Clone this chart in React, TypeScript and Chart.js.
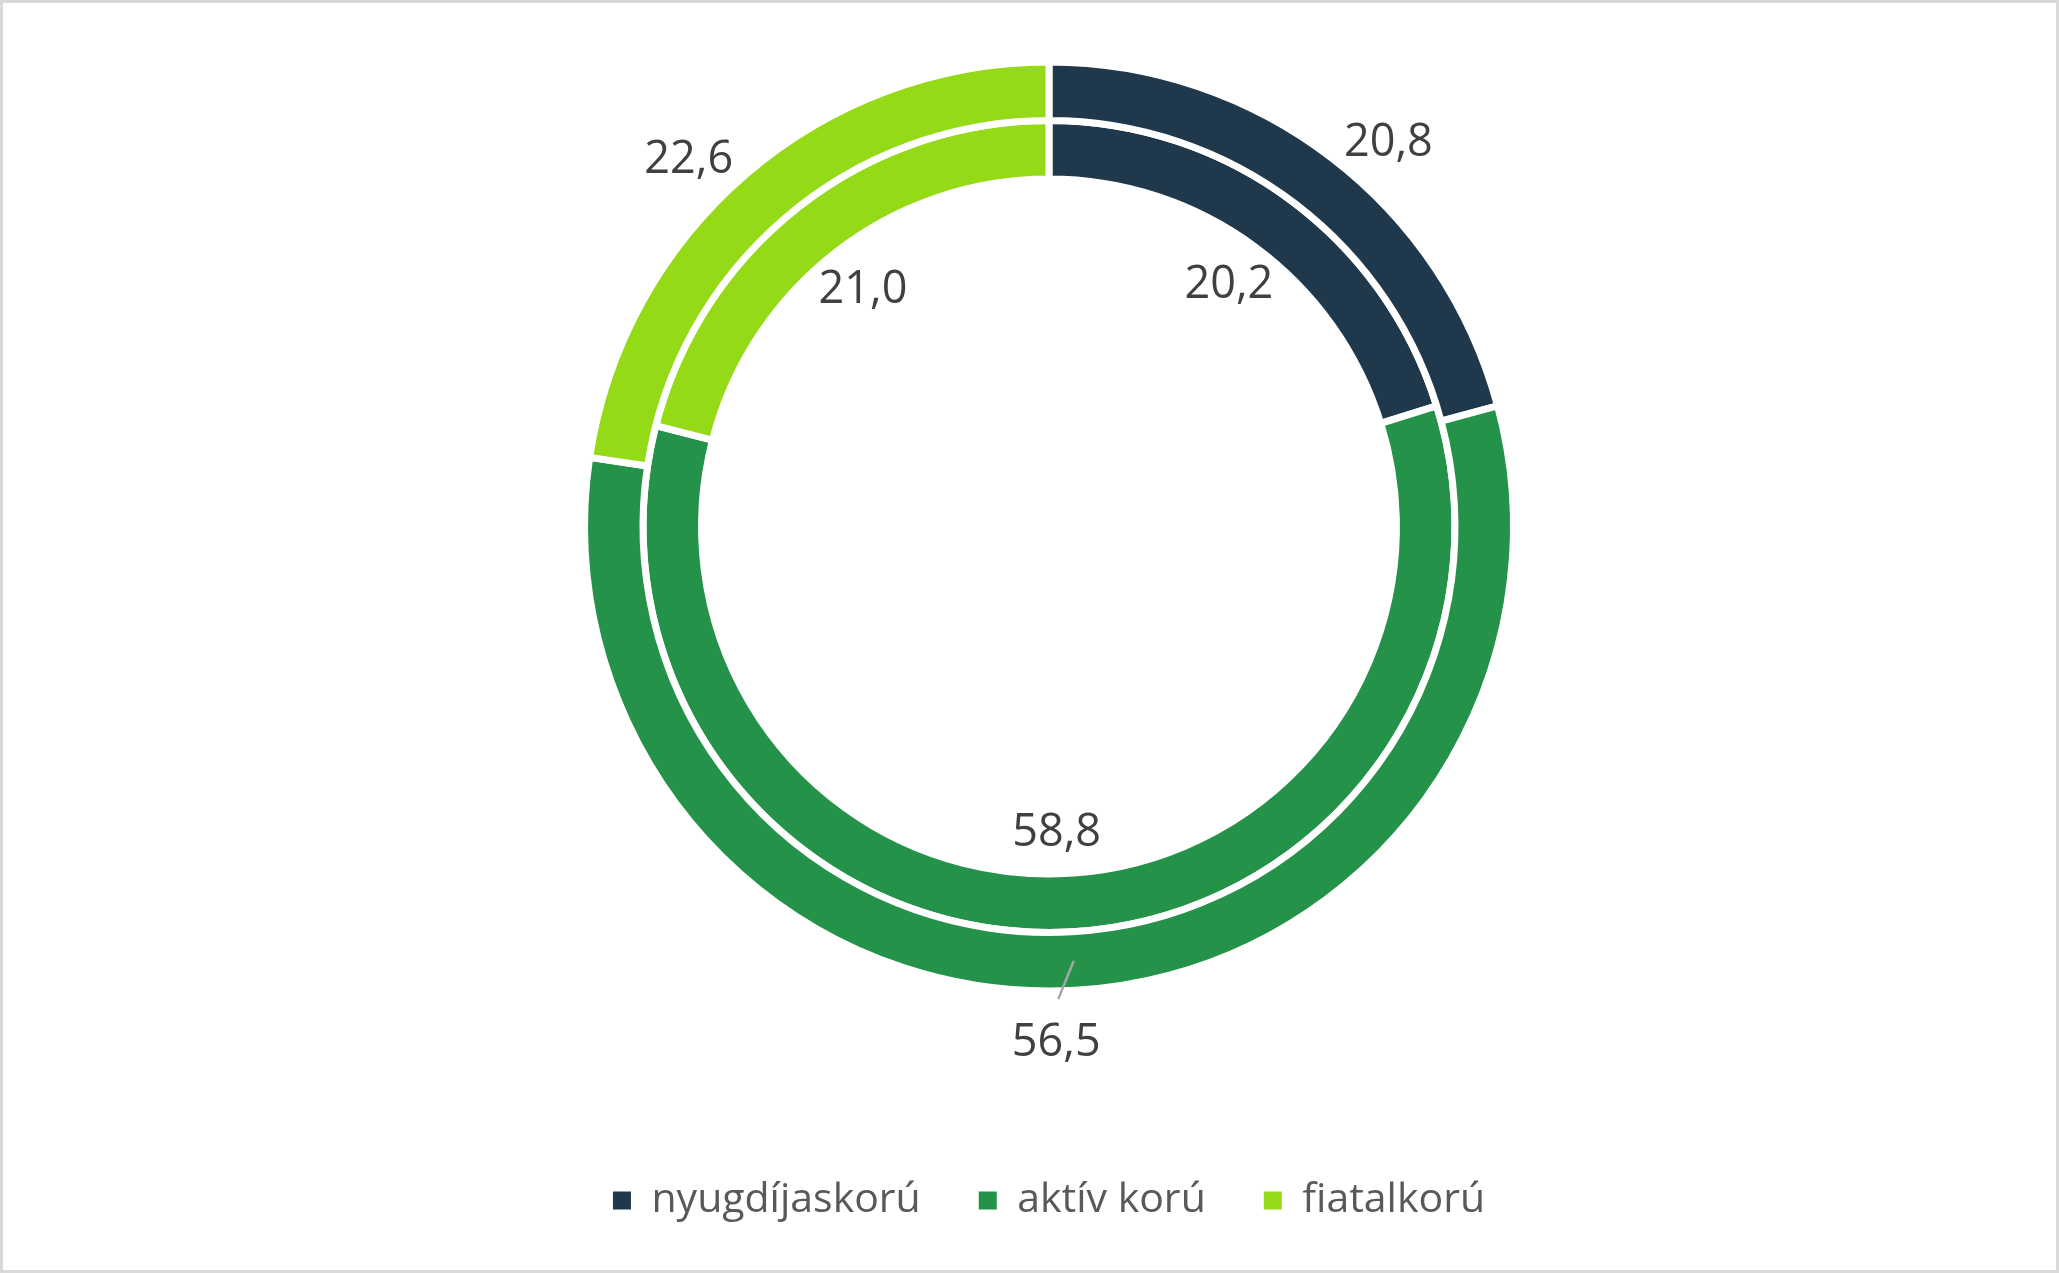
import React, { useEffect, useRef } from "react";
import { Chart, registerables } from "chart.js";

Chart.register(...registerables);

const categories = ["nyugdíjaskorú", "aktív korú", "fiatalkorú"];
const outerValues = [20.8, 56.5, 22.6];
const innerValues = [20.2, 58.8, 21.0];
const colors = ["#1F384C", "#25924A", "#94DA16"];
const outerLeader = [false, true, false];

const FONT = '"Open Sans", "DejaVu Sans", sans-serif';
const LABEL_SIZE = 45;
const LEGEND_SIZE = 41;
const CANVAS_W = 2053;
const CANVAS_H = 1340;
const SHIFT = 72.5;

const fmt = (v: number) => v.toFixed(1).replace(".", ",");
const clamp = (v: number) => Math.max(-1, Math.min(1, v));

const ringLabels = {
  id: "ringLabels",
  afterDatasetsDraw(chart: any) {
    const ctx = chart.ctx as CanvasRenderingContext2D;
    ctx.save();
    ctx.font = `${LABEL_SIZE}px ${FONT}`;
    ctx.fillStyle = "#404040";
    ctx.textAlign = "center";
    ctx.textBaseline = "alphabetic";
    const hh = (LABEL_SIZE * 0.714) / 2;
    chart.data.datasets.forEach((ds: any, di: number) => {
      const meta = chart.getDatasetMeta(di);
      meta.data.forEach((arc: any, i: number) => {
        const { x, y, startAngle, endAngle, innerRadius, outerRadius } = arc.getProps(
          ["x", "y", "startAngle", "endAngle", "innerRadius", "outerRadius"],
          true
        );
        const mid = (startAngle + endAngle) / 2;
        const c = Math.cos(mid);
        const s = Math.sin(mid);
        const text = fmt(ds.data[i]);
        const hw = ctx.measureText(text).width / 2;
        let lx: number;
        let ly: number;
        if (di === 0) {
          if (outerLeader[i]) {
            const r = outerRadius + 50;
            lx = x + c * r * 0.25;
            ly = y + s * r;
            const rm = (innerRadius + outerRadius) / 2;
            ctx.save();
            ctx.strokeStyle = "#A6A6A6";
            ctx.lineWidth = 2.5;
            ctx.beginPath();
            ctx.moveTo(x + c * rm, y + s * rm);
            ctx.lineTo(lx + 2, ly - hh - 25);
            ctx.stroke();
            ctx.restore();
          } else {
            const ra = outerRadius + 12;
            lx = x + c * ra + (hw + 5) * clamp(c * 2);
            ly = y + s * ra + hh * 0.5 * clamp(s * 2);
          }
        } else {
          const r = innerRadius - 44;
          lx = x + c * r;
          ly = y + s * r;
        }
        ctx.fillText(text, lx, ly + hh);
      });
    });
    ctx.restore();
  },
};

export default function App() {
  const ref = useRef<HTMLCanvasElement>(null);
  useEffect(() => {
    if (!ref.current) return;
    const baseGen = (Chart as any).overrides.doughnut.plugins.legend.labels.generateLabels;
    const chart = new Chart(ref.current, {
      type: "doughnut",
      data: {
        labels: categories,
        datasets: [
          {
            label: "külső",
            data: outerValues,
            backgroundColor: colors,
            borderColor: "#FFFFFF",
            borderWidth: 7,
          },
          {
            label: "belső",
            data: innerValues,
            backgroundColor: colors,
            borderColor: "#FFFFFF",
            borderWidth: 7,
          },
        ],
      },
      options: {
        responsive: false,
        maintainAspectRatio: false,
        animation: false,
        devicePixelRatio: 1,
        cutout: "74.8%",
        radius: 464.5,
        layout: { padding: { left: 39, right: 0, top: 0, bottom: 40 } },
        plugins: {
          tooltip: { enabled: false },
          legend: {
            position: "bottom",
            labels: {
              boxWidth: 18,
              boxHeight: 18,
              padding: 58,
              color: "#595959",
              font: { family: FONT, size: LEGEND_SIZE },
              generateLabels: (ch: any) =>
                baseGen(ch).map((l: any) => ({ ...l, lineWidth: 0, strokeStyle: "transparent" })),
            },
          },
        },
      } as any,
      plugins: [ringLabels],
    });
    return () => chart.destroy();
  }, []);
  return (
    <div
      style={{
        position: "fixed",
        left: 0,
        top: 0,
        width: 2059,
        height: 1273,
        boxSizing: "border-box",
        border: "3px solid #D9D9D9",
        background: "#FFFFFF",
        overflow: "hidden",
      }}
    >
      <canvas
        ref={ref}
        width={CANVAS_W}
        height={CANVAS_H}
        style={{ display: "block", width: CANVAS_W, height: CANVAS_H, marginTop: -SHIFT }}
      />
    </div>
  );
}
